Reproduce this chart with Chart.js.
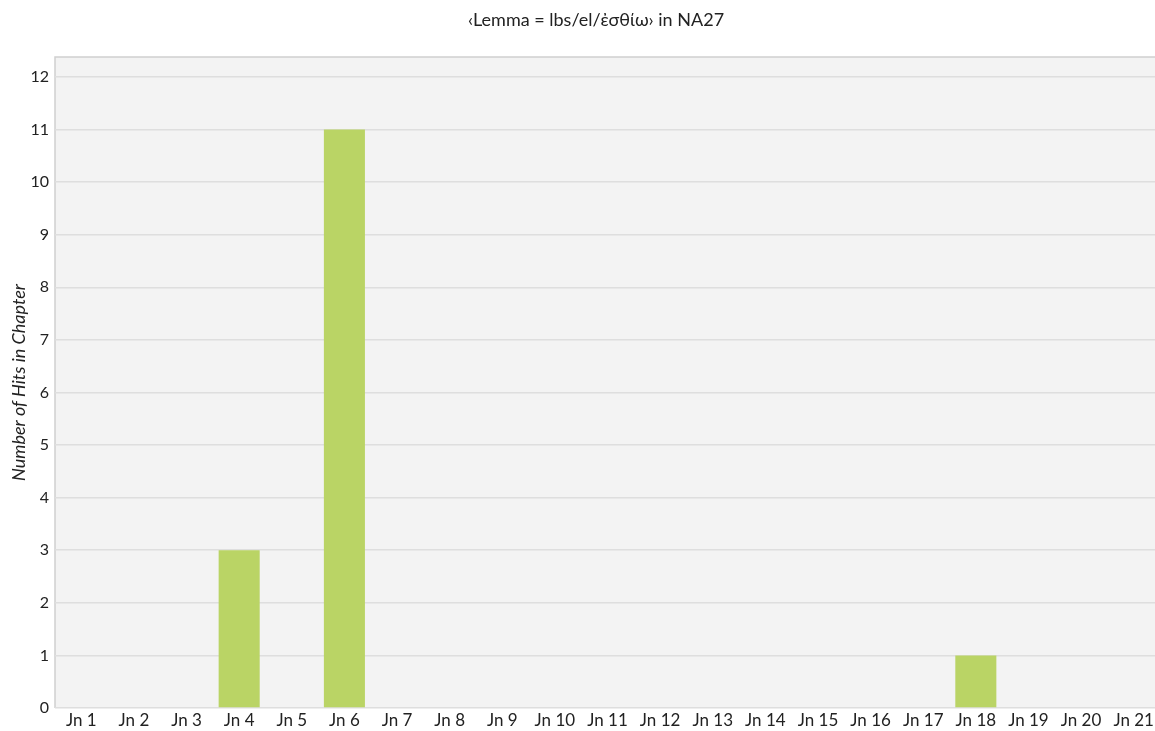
<!DOCTYPE html>
<html>
<head>
<meta charset="utf-8">
<script src="https://cdn.jsdelivr.net/npm/chart.js@4"></script>
<style>
  html, body { margin: 0; padding: 0; background: #fff; overflow: hidden; }
  #wrap { width: 1160px; height: 731px; }
</style>
</head>
<body>
<div id="wrap"><canvas id="hits-chart"></canvas></div>
<script>
const chapters = ['Jn 1', 'Jn 2', 'Jn 3', 'Jn 4', 'Jn 5', 'Jn 6', 'Jn 7', 'Jn 8', 'Jn 9', 'Jn 10', 'Jn 11',
    'Jn 12', 'Jn 13', 'Jn 14', 'Jn 15', 'Jn 16', 'Jn 17', 'Jn 18', 'Jn 19', 'Jn 20', 'Jn 21'];
const hits = [0, 0, 0, 3, 0, 11, 0, 0, 0, 0, 0, 0, 0, 0, 0, 0, 0, 1, 0, 0, 0];
const chartTitle = '\u2039Lemma = lbs/el/\u1F10\u03C3\u03B8\u03AF\u03C9\u203A in NA27';
const yTitle = 'Number of Hits in Chapter';

const fontFamily = 'Lato';

// plot background + left/top border, and the title (centred a bit right of canvas centre)
const plotBg = {
    id: 'plotBg',
    beforeDraw(chart) {
        const { ctx, chartArea: a } = chart;
        ctx.save();
        ctx.fillStyle = '#f3f3f3';
        ctx.fillRect(a.left, a.top, a.right - a.left, a.bottom - a.top);
        ctx.strokeStyle = '#d0d0d0';
        ctx.lineWidth = 1.5;
        ctx.beginPath();
        ctx.moveTo(a.left, a.bottom);
        ctx.lineTo(a.left, a.top);
        ctx.lineTo(a.right, a.top);
        ctx.stroke();

        ctx.fillStyle = '#222';
        ctx.font = '18px ' + fontFamily;
        ctx.textAlign = 'center';
        ctx.textBaseline = 'middle';
        ctx.fillText(chartTitle, 596, 20);
        ctx.restore();
    }
};

new Chart(document.getElementById('hits-chart'), {
    type: 'bar',
    data: {
        labels: chapters,
        datasets: [{
            data: hits,
            backgroundColor: '#bad465',
            borderWidth: 0,
            barPercentage: 0.78,
            categoryPercentage: 1
        }]
    },
    options: {
        responsive: true,
        maintainAspectRatio: false,
        animation: false,
        layout: { padding: { top: 57 } },
        plugins: {
            legend: { display: false },
            tooltip: { enabled: false },
            title: { display: false }
        },
        scales: {
            x: {
                grid: { display: false, drawTicks: false },
                border: { display: false },
                ticks: { color: '#222', font: { family: fontFamily, size: 17 }, padding: 2, maxRotation: 0, autoSkip: false },
                afterFit(scale) { scale.height = 23; }
            },
            y: {
                min: 0,
                max: 12.38,
                grid: { color: '#dedede', lineWidth: 1.5, drawTicks: false },
                border: { display: false },
                ticks: { stepSize: 1, color: '#222', font: { family: fontFamily, size: 16 }, padding: 6 },
                afterBuildTicks(scale) {
                    scale.ticks = scale.ticks.filter(t => Number.isInteger(t.value));
                },
                title: {
                    display: true,
                    text: yTitle,
                    color: '#222',
                    font: { family: fontFamily, size: 18, style: 'italic' },
                    padding: { top: 8, bottom: 0 }
                },
                afterFit(scale) { scale.width = 55; }
            }
        }
    },
    plugins: [plotBg]
});
</script>
</body>
</html>
